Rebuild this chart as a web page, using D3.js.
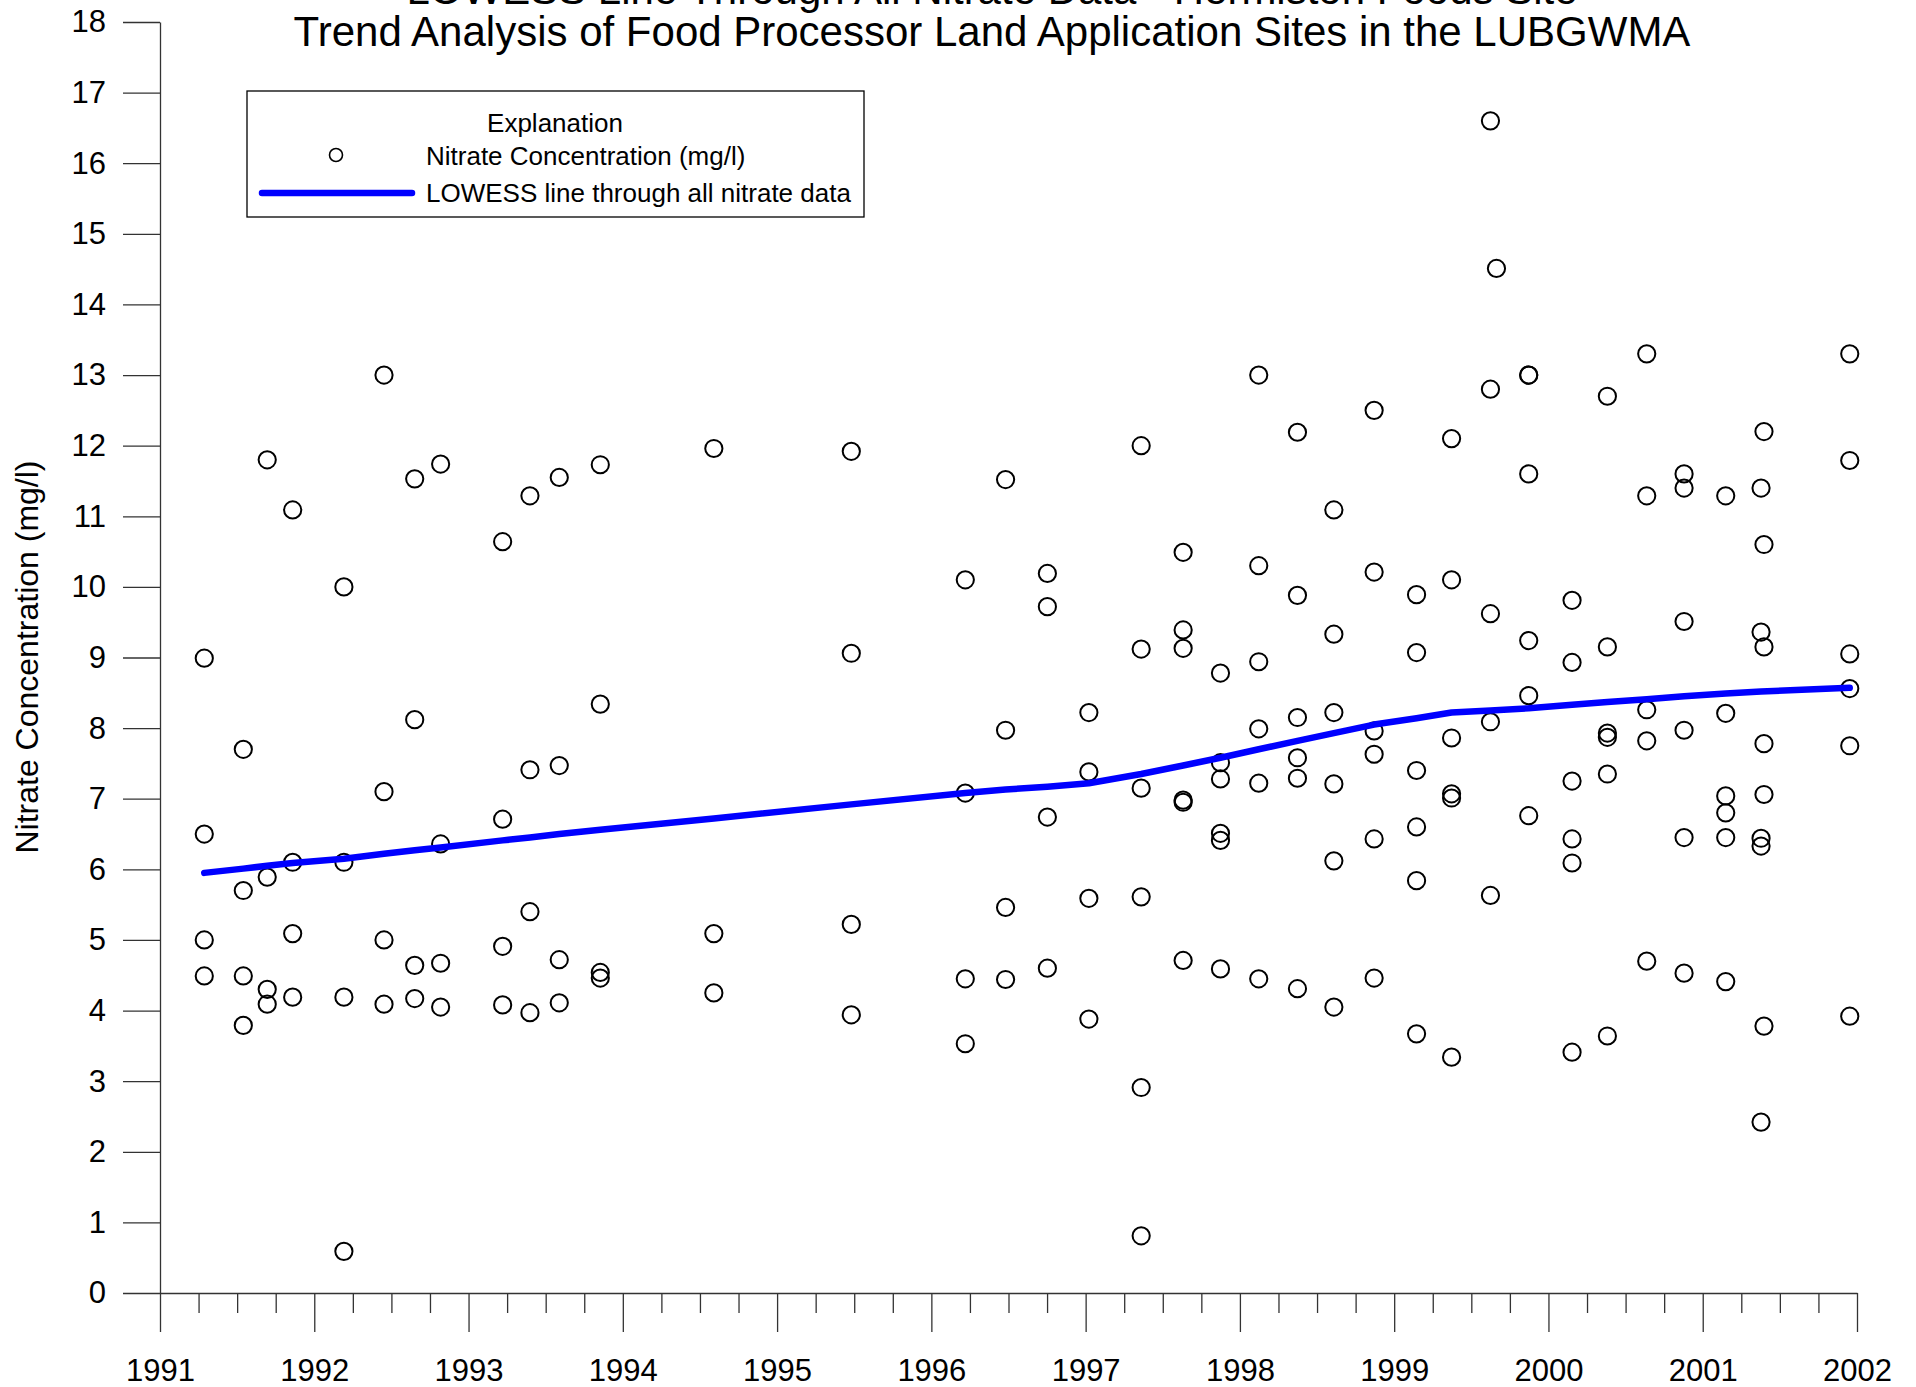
<!DOCTYPE html>
<html>
<head>
<meta charset="utf-8">
<script src="https://cdn.jsdelivr.net/npm/d3@7"></script>
<style>
  html, body { margin: 0; padding: 0; background: #fff; }
  svg { display: block; font-family: "Liberation Sans", Arial, Helvetica, sans-serif; }
</style>
</head>
<body>
<svg id="chart" width="1916" height="1387"></svg>
<script>
// Sampling events (decimal year) and the nitrate readings taken at each one (mg/l)
const sampleDates = [
  1991.287, 1991.540, 1991.695, 1991.860, 1992.192, 1992.452, 1992.651, 1992.819,
  1993.221, 1993.398, 1993.588, 1993.854, 1994.590, 1995.481, 1996.220, 1996.481,
  1996.752, 1997.021, 1997.360, 1997.632, 1997.874, 1998.122, 1998.373, 1998.609,
  1998.870, 1999.145, 1999.372, 1999.624, 1999.663, 1999.872, 2000.153, 2000.382,
  2000.637, 2000.879, 2001.149, 2001.378, 2001.397, 2001.953
];
const nitrateReadings = [
  [8.99, 6.50, 5.00, 4.49],
  [7.70, 5.70, 4.49, 3.79],
  [11.80, 5.89, 4.30, 4.09],
  [11.09, 6.10, 5.09, 4.19],
  [10.00, 6.10, 4.19, 0.59],
  [13.00, 7.10, 5.00, 4.09],
  [11.53, 8.12, 4.64, 4.17],
  [11.74, 6.36, 4.67, 4.05],
  [10.64, 6.71, 4.91, 4.08],
  [11.29, 7.41, 5.40, 3.97],
  [11.55, 7.47, 4.72, 4.11],
  [11.73, 8.34, 4.54, 4.46],
  [11.96, 5.09, 4.25],
  [11.92, 9.06, 5.22, 3.94],
  [10.10, 7.08, 4.45, 3.53],
  [11.52, 7.97, 5.46, 4.44],
  [10.19, 9.72, 6.74, 4.60],
  [8.22, 7.38, 5.59, 3.88],
  [12.00, 9.12, 7.15, 5.61, 2.91, 0.81],
  [10.49, 9.39, 9.13, 6.98, 6.95, 4.71],
  [8.78, 7.51, 7.28, 6.51, 6.41, 4.59],
  [13.00, 10.30, 8.94, 7.99, 7.22, 4.45],
  [12.19, 9.88, 8.15, 7.58, 7.29, 4.31],
  [11.09, 9.33, 8.22, 7.21, 6.12, 4.05],
  [12.50, 10.21, 7.96, 7.63, 6.43, 4.46],
  [9.89, 9.07, 7.40, 6.60, 5.84, 3.67],
  [12.10, 10.10, 7.86, 7.07, 7.01, 3.34],
  [16.60, 12.80, 9.62, 8.09, 5.63],
  [14.51],
  [13.00, 13.00, 11.60, 9.24, 8.46, 6.76],
  [9.81, 8.93, 7.25, 6.43, 6.09, 3.41],
  [12.70, 9.15, 7.93, 7.87, 7.35, 3.64],
  [13.30, 11.29, 8.26, 7.82, 4.70],
  [11.60, 11.40, 9.51, 7.97, 6.45, 4.53],
  [11.29, 8.21, 7.04, 6.80, 6.45, 4.41],
  [11.40, 9.36, 6.44, 6.33, 2.42],
  [12.20, 10.60, 9.15, 7.78, 7.06, 3.78],
  [13.30, 11.79, 9.05, 8.56, 7.75, 3.92]
];

// LOWESS fit evaluated at the sampling dates
const lowessDates = sampleDates.filter(d => d !== 1999.663 && d !== 2001.397);
const lowessValues = [
  5.95, 6.01, 6.05, 6.09, 6.15, 6.22, 6.27, 6.31,
  6.41, 6.45, 6.50, 6.56, 6.72, 6.92, 7.08, 7.13,
  7.17, 7.22, 7.35, 7.47, 7.58, 7.70, 7.82, 7.93,
  8.05, 8.14, 8.22, 8.25, 8.28, 8.33, 8.37,
  8.41, 8.45, 8.49, 8.52, 8.57
];

// Axis ticks
const yearTicks = d3.range(1991, 2003);
const quarterTicks = d3.range(1991, 2002.001, 0.25).filter(v => Math.abs(v - Math.round(v)) > 1e-6);
const concTicks = d3.range(0, 19);

const titleLines = [
  "LOWESS Line Through All Nitrate Data - Hermiston Foods Site",
  "Trend Analysis of Food Processor Land Application Sites in the LUBGWMA"
];

const svg = d3.select("#chart");
const x = d3.scaleLinear().domain([1991, 2002]).range([160, 1857]);
const y = d3.scaleLinear().domain([0, 18]).range([1293, 22]);

const axisColor = "#333";

// Title (first line runs off the top edge of the page)
svg.append("g")
  .selectAll("text")
  .data(titleLines)
  .join("text")
  .attr("x", 992)
  .attr("y", (d, i) => 4 + i * 42)
  .attr("text-anchor", "middle")
  .attr("font-size", 42)
  .attr("fill", "#000")
  .text(d => d);

// Minor (quarter-year) ticks
svg.append("g")
  .attr("transform", `translate(0,${y(0)})`)
  .call(d3.axisBottom(x).tickValues(quarterTicks).tickSize(20).tickSizeOuter(0).tickFormat(""))
  .call(g => g.select(".domain").remove())
  .call(g => g.selectAll("line").attr("stroke", axisColor).attr("stroke-width", 1.3));

// Major (year) ticks with labels
svg.append("g")
  .attr("transform", `translate(0,${y(0)})`)
  .call(d3.axisBottom(x).tickValues(yearTicks).tickSize(39).tickSizeOuter(0).tickPadding(27).tickFormat(d3.format("d")))
  .call(g => g.select(".domain").attr("stroke", axisColor).attr("stroke-width", 1.3))
  .call(g => g.selectAll("line").attr("stroke", axisColor).attr("stroke-width", 1.3))
  .call(g => g.selectAll("text").attr("font-size", 31).attr("fill", "#000")
    .attr("font-family", "'Liberation Sans', Arial, sans-serif"));

// Concentration axis
svg.append("g")
  .attr("transform", `translate(${x(1991)},0)`)
  .call(d3.axisLeft(y).tickValues(concTicks).tickSize(37).tickSizeOuter(0).tickPadding(17).tickFormat(d3.format("d")))
  .call(g => g.select(".domain").attr("stroke", axisColor).attr("stroke-width", 1.3))
  .call(g => g.selectAll("line").attr("stroke", axisColor).attr("stroke-width", 1.3))
  .call(g => g.selectAll("text").attr("font-size", 31).attr("fill", "#000")
    .attr("font-family", "'Liberation Sans', Arial, sans-serif"));

// Axis title
svg.append("text")
  .attr("transform", `translate(38,${657}) rotate(-90)`)
  .attr("text-anchor", "middle")
  .attr("font-size", 32)
  .attr("fill", "#000")
  .text("Nitrate Concentration (mg/l)");

// Observations
const points = sampleDates.flatMap((d, i) => nitrateReadings[i].map(v => ({ date: d, value: v })));
svg.append("g")
  .selectAll("circle")
  .data(points)
  .join("circle")
  .attr("cx", d => x(d.date))
  .attr("cy", d => y(d.value))
  .attr("r", 8.6)
  .attr("fill", "none")
  .attr("stroke", "#000")
  .attr("stroke-width", 2);

// LOWESS line
const lowess = lowessDates.map((d, i) => [d, lowessValues[i]]);
svg.append("path")
  .datum(lowess)
  .attr("d", d3.line().x(d => x(d[0])).y(d => y(d[1])))
  .attr("fill", "none")
  .attr("stroke", "#0000ff")
  .attr("stroke-width", 6.5)
  .attr("stroke-linecap", "round")
  .attr("stroke-linejoin", "round");

// Legend
const legend = svg.append("g");
legend.append("rect")
  .attr("x", 247).attr("y", 91)
  .attr("width", 617).attr("height", 126)
  .attr("fill", "#fff")
  .attr("stroke", "#000")
  .attr("stroke-width", 1.3);
legend.append("text")
  .attr("x", 555).attr("y", 132)
  .attr("text-anchor", "middle")
  .attr("font-size", 26)
  .text("Explanation");
legend.append("circle")
  .attr("cx", 336).attr("cy", 155)
  .attr("r", 6.5)
  .attr("fill", "none")
  .attr("stroke", "#000")
  .attr("stroke-width", 1.6);
legend.append("text")
  .attr("x", 426).attr("y", 165)
  .attr("font-size", 26)
  .text("Nitrate Concentration (mg/l)");
legend.append("line")
  .attr("x1", 262).attr("x2", 412)
  .attr("y1", 193).attr("y2", 193)
  .attr("stroke", "#0000ff")
  .attr("stroke-width", 6.5)
  .attr("stroke-linecap", "round");
legend.append("text")
  .attr("x", 426).attr("y", 202)
  .attr("font-size", 26)
  .text("LOWESS line through all nitrate data");
</script>
</body>
</html>
